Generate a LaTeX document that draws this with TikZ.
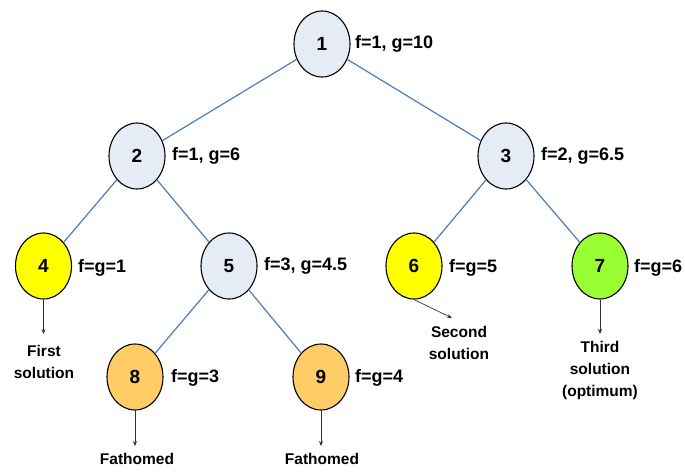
\documentclass[tikz,border=0pt]{standalone}
\usepackage{fontspec}
\setmainfont{Liberation Sans}
\usetikzlibrary{shapes.geometric,arrows.meta}
\definecolor{nodefill}{HTML}{E6ECF5}
\definecolor{solyellow}{HTML}{FFFF00}
\definecolor{optgreen}{HTML}{99FF33}
\definecolor{fathom}{HTML}{FFCC66}
\definecolor{edgeblue}{HTML}{4A7EBB}
\tikzset{
  tnode/.style={ellipse, draw=black, line width=1.1pt, fill=nodefill, minimum width=56pt, minimum height=66pt, inner sep=0pt, font=\fontsize{19}{20}\selectfont\bfseries},
  lbl/.style={anchor=west, inner sep=0pt, font=\fontsize{18}{20}\selectfont\bfseries},
  note/.style={align=center, inner sep=0pt, font=\fontsize{15.5}{22}\selectfont\bfseries},
  tedge/.style={draw=edgeblue, line width=1.2pt},
  parr/.style={draw=black!80, line width=0.7pt, -{Stealth[length=5pt,width=4pt]}}
}
\begin{document}
\begin{tikzpicture}[x=1pt,y=-1pt]
\useasboundingbox (0,0) rectangle (685,472);
\node[tnode] (n1) at (322,44) {1};
\node[tnode] (n2) at (137,156) {2};
\node[tnode] (n3) at (506,156) {3};
\node[tnode, fill=solyellow] (n4) at (43.5,266) {4};
\node[tnode] (n5) at (229,266) {5};
\node[tnode, fill=solyellow] (n6) at (414,266) {6};
\node[tnode, fill=optgreen] (n7) at (600,266) {7};
\node[tnode, fill=fathom] (n8) at (135,377) {8};
\node[tnode, fill=fathom] (n9) at (321,377) {9};

\draw[tedge] (n1) -- (n2);
\draw[tedge] (n1) -- (n3);
\draw[tedge] (n2) -- (n4);
\draw[tedge] (n2) -- (n5);
\draw[tedge] (n3) -- (n6);
\draw[tedge] (n3) -- (n7);
\draw[tedge] (n5) -- (n8);
\draw[tedge] (n5) -- (n9);

\node[lbl] (l1) at (355,44) {f=1, g=10};
\node[lbl] (l2) at (172,156) {f=1, g=6};
\node[lbl] (l3) at (541,156) {f=2, g=6.5};
\node[lbl] (l4) at (78,268) {f=g=1};
\node[lbl] (l5) at (264,266) {f=3, g=4.5};
\node[lbl] (l6) at (449,268) {f=g=5};
\node[lbl] (l7) at (634,268) {f=g=6};
\node[lbl] (l8) at (171,378) {f=g=3};
\node[lbl] (l9) at (355,378) {f=g=4};

\coordinate (a4) at (43.5,334);
\coordinate (a6) at (452,318);
\coordinate (a7) at (600,334);
\coordinate (a8) at (135,446);
\coordinate (a9) at (321,446);
\draw[parr] (n4.south) -- (a4);
\draw[parr] (n6.south) -- (a6);
\draw[parr] (n7.south) -- (a7);
\draw[parr] (n8.south) -- (a8);
\draw[parr] (n9.south) -- (a9);

\node[note, anchor=north] (t4) at (44,345) {First\\solution};
\node[note, anchor=north] (t6) at (459,326) {Second\\solution};
\node[note, anchor=north] (t7) at (600,341) {Third\\solution\\(optimum)};
\node[note, anchor=north] (t8) at (137,453) {Fathomed};
\node[note, anchor=north] (t9) at (322,453) {Fathomed};
\end{tikzpicture}
\end{document}
